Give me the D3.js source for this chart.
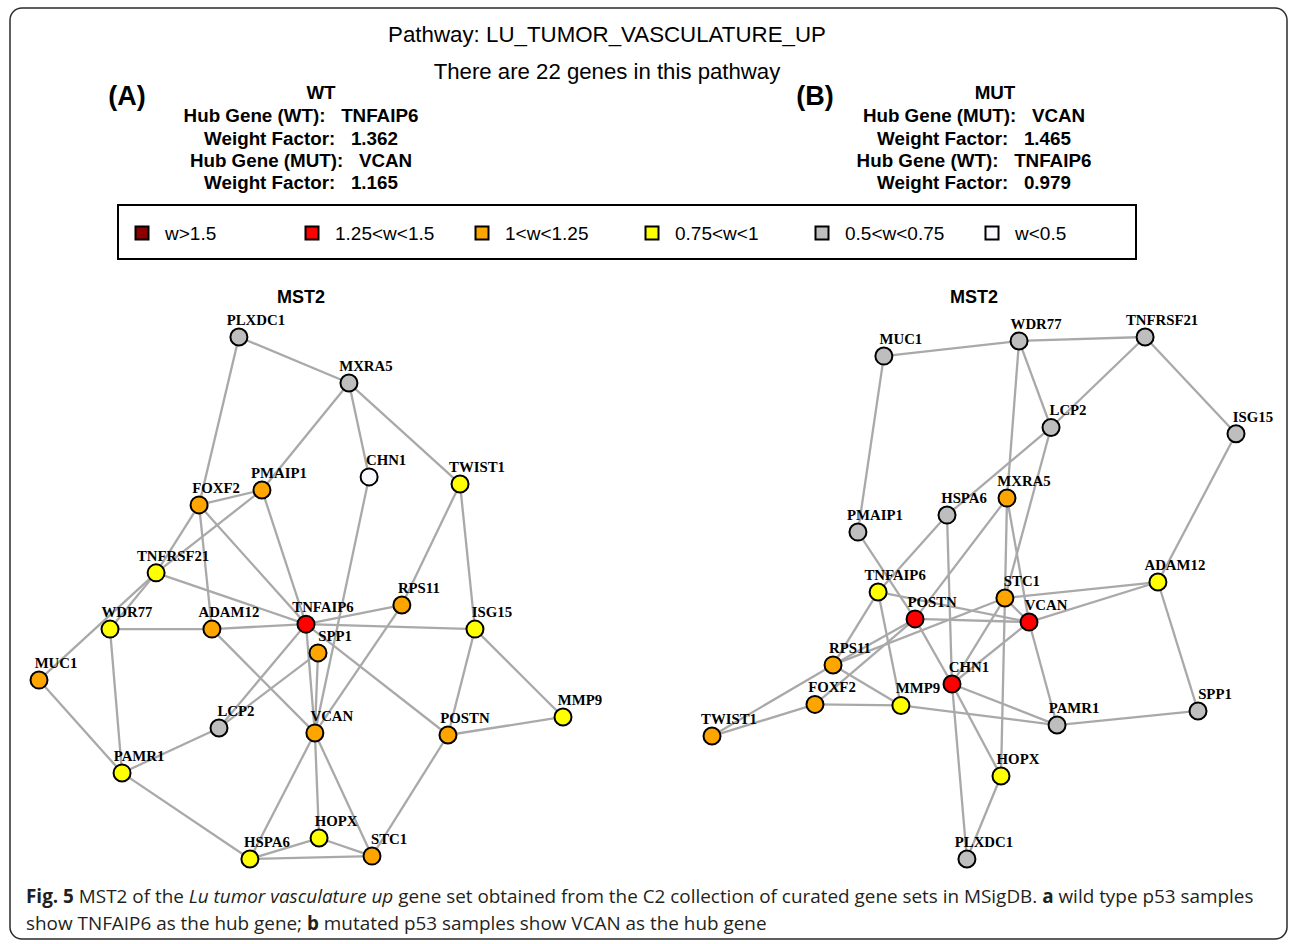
<!DOCTYPE html>
<html>
<head>
<meta charset="utf-8">
<script src="https://cdn.jsdelivr.net/npm/d3@7"></script>
<style>
  html, body { margin: 0; padding: 0; background: #fff; }
  svg { display: block; }
  .pre { white-space: pre; }
</style>
</head>
<body>
<div id="chart"></div>
<script>
// ---- data -------------------------------------------------------------
const genes = ["PLXDC1","MXRA5","CHN1","TWIST1","FOXF2","PMAIP1","TNFRSF21","WDR77",
  "ADAM12","TNFAIP6","RPS11","ISG15","SPP1","MUC1","LCP2","VCAN","POSTN","MMP9",
  "PAMR1","HOPX","HSPA6","STC1"];

// layout coordinates (normalised to [-1, 1]) for the wild-type network
const wtLayoutX = [-0.237, 0.183, 0.260, 0.607, -0.389, -0.149, -0.553, -0.729,
  -0.340, 0.019, 0.385, 0.664, 0.065, -1.0, -0.313, 0.053, 0.561, 1.0,
  -0.683, 0.069, -0.195, 0.271];
const wtLayoutY = [1.0, 0.824, 0.465, 0.438, 0.358, 0.415, 0.098, -0.117,
  -0.117, -0.098, -0.025, -0.117, -0.208, -0.312, -0.495, -0.514, -0.522, -0.453,
  -0.667, -0.916, -0.996, -0.985];
// node weight factors, wild type
const wtWeight = [0.62, 0.71, 0.46, 0.86, 1.12, 1.08, 0.92, 0.88,
  1.10, 1.362, 1.04, 0.95, 1.15, 1.02, 0.66, 1.165, 1.13, 0.78,
  0.84, 0.90, 0.82, 1.06];

// layout coordinates for the mutated network
const mutLayoutX = [-0.027, 0.126, -0.084, -1.0, -0.607, -0.443, 0.653, 0.172,
  0.702, -0.366, -0.538, 1.0, 0.855, -0.344, 0.294, 0.210, -0.225, -0.279,
  0.317, 0.103, -0.103, 0.118];
const mutLayoutY = [-0.996, 0.384, -0.327, -0.526, -0.405, 0.254, 1.0, 0.985,
  0.063, 0.025, -0.254, 0.630, -0.430, 0.927, 0.654, -0.090, -0.078, -0.409,
  -0.484, -0.679, 0.319, 0.002];
// node weight factors, mutated
const mutWeight = [0.60, 1.12, 1.28, 1.01, 1.03, 0.61, 0.55, 0.69,
  0.93, 0.979, 1.05, 0.52, 0.56, 0.58, 0.64, 1.465, 1.31, 0.81,
  0.67, 0.87, 0.73, 1.18];

// MST2 edges
const wtEdges = [
  ["PLXDC1","MXRA5"],["PLXDC1","FOXF2"],["MXRA5","PMAIP1"],["MXRA5","CHN1"],
  ["MXRA5","TWIST1"],["FOXF2","PMAIP1"],["FOXF2","TNFRSF21"],["FOXF2","ADAM12"],
  ["FOXF2","TNFAIP6"],["PMAIP1","TNFRSF21"],["PMAIP1","TNFAIP6"],["TNFRSF21","TNFAIP6"],
  ["TNFRSF21","WDR77"],["TNFRSF21","MUC1"],["WDR77","ADAM12"],["ADAM12","TNFAIP6"],
  ["WDR77","PAMR1"],["MUC1","PAMR1"],["PAMR1","LCP2"],["PAMR1","HSPA6"],
  ["ADAM12","VCAN"],["LCP2","TNFAIP6"],["LCP2","SPP1"],["TNFAIP6","VCAN"],
  ["SPP1","VCAN"],["CHN1","VCAN"],["TNFAIP6","RPS11"],["TNFAIP6","ISG15"],
  ["TNFAIP6","POSTN"],["RPS11","TWIST1"],["RPS11","VCAN"],["TWIST1","ISG15"],
  ["ISG15","POSTN"],["ISG15","MMP9"],["POSTN","MMP9"],["POSTN","STC1"],
  ["VCAN","HSPA6"],["VCAN","HOPX"],["VCAN","STC1"],["HOPX","HSPA6"],
  ["HOPX","STC1"],["HSPA6","STC1"]
];
const mutEdges = [
  ["MUC1","WDR77"],["MUC1","PMAIP1"],["WDR77","TNFRSF21"],["WDR77","LCP2"],
  ["WDR77","MXRA5"],["TNFRSF21","LCP2"],["TNFRSF21","ISG15"],["ISG15","ADAM12"],
  ["LCP2","HSPA6"],["LCP2","STC1"],["MXRA5","STC1"],["MXRA5","VCAN"],
  ["MXRA5","POSTN"],["HSPA6","CHN1"],["TNFAIP6","HSPA6"],["TNFAIP6","RPS11"],
  ["TNFAIP6","MMP9"],["TNFAIP6","VCAN"],["PMAIP1","POSTN"],["POSTN","VCAN"],
  ["POSTN","CHN1"],["POSTN","RPS11"],["POSTN","FOXF2"],["RPS11","STC1"],
  ["RPS11","TWIST1"],["RPS11","MMP9"],["FOXF2","TWIST1"],["FOXF2","MMP9"],
  ["MMP9","PAMR1"],["CHN1","PAMR1"],["CHN1","VCAN"],["CHN1","STC1"],
  ["CHN1","HOPX"],["CHN1","PLXDC1"],["HOPX","PLXDC1"],["STC1","HOPX"],
  ["STC1","VCAN"],["STC1","ADAM12"],["VCAN","ADAM12"],["VCAN","PAMR1"],
  ["PAMR1","SPP1"],["ADAM12","SPP1"]
];

// weight classes for the legend
const weightBreaks = [0.5, 0.75, 1, 1.25, 1.5];
const weightColors = ["#F8F8FF", "#BEBEBE", "#FFFF00", "#FFA500", "#FF0000", "#8B0000"];
const legendLabels = ["w>1.5", "1.25<w<1.5", "1<w<1.25", "0.75<w<1", "0.5<w<0.75", "w<0.5"];

const pathwayName = "LU_TUMOR_VASCULATURE_UP";
const geneCount = 22;
const wtInfo = ["WT", "Hub Gene (WT):   TNFAIP6", "Weight Factor:   1.362",
  "Hub Gene (MUT):   VCAN", "Weight Factor:   1.165"];
const mutInfo = ["MUT", "Hub Gene (MUT):   VCAN", "Weight Factor:   1.465",
  "Hub Gene (WT):   TNFAIP6", "Weight Factor:   0.979"];

// ---- drawing ----------------------------------------------------------
const W = 1296, H = 944;
const svg = d3.select("#chart").append("svg")
  .attr("width", W).attr("height", H)
  .attr("viewBox", [0, 0, W, H]);

svg.append("rect").attr("width", W).attr("height", H).attr("fill", "#fff");

// rounded frame around the figure
svg.append("rect")
  .attr("x", 10).attr("y", 8).attr("width", 1277).attr("height", 931)
  .attr("rx", 12).attr("ry", 12)
  .attr("fill", "none").attr("stroke", "#2b2b2b").attr("stroke-width", 1.5);

const sans = "'Liberation Sans', Arial, Helvetica, sans-serif";
const serif = "'Liberation Serif', 'Times New Roman', serif";

svg.append("text")
  .attr("x", 607).attr("y", 42)
  .attr("text-anchor", "middle")
  .attr("font-family", sans).attr("font-size", 22.3)
  .text("Pathway: " + pathwayName);

svg.append("text")
  .attr("x", 607).attr("y", 79)
  .attr("text-anchor", "middle")
  .attr("font-family", sans).attr("font-size", 22.2)
  .text(`There are ${geneCount} genes in this pathway`);

// panel tags
[["(A)", 127], ["(B)", 815]].forEach(([t, x]) => {
  svg.append("text")
    .attr("x", x).attr("y", 105)
    .attr("text-anchor", "middle")
    .attr("font-family", sans).attr("font-size", 27).attr("font-weight", "bold")
    .text(t);
});

// hub gene summary blocks
function infoBlock(lines, cx, titleCx) {
  const baselines = [99, 122, 145, 167, 189];
  lines.forEach((t, i) => {
    svg.append("text")
      .attr("class", "pre")
      .attr("x", i === 0 ? titleCx : cx).attr("y", baselines[i])
      .attr("text-anchor", "middle")
      .attr("font-family", sans).attr("font-size", 18.8).attr("font-weight", "bold")
      .text(t);
  });
}
infoBlock(wtInfo, 301, 321);
infoBlock(mutInfo, 974, 995);

// weight colour scale
const weightColor = d3.scaleThreshold().domain(weightBreaks).range(weightColors);

// legend
svg.append("rect")
  .attr("x", 118).attr("y", 205).attr("width", 1018).attr("height", 54)
  .attr("fill", "none").attr("stroke", "#000").attr("stroke-width", 2);

const legendX = d3.scalePoint().domain(legendLabels).range([142, 992]);
const legendColor = weightColors.slice().reverse();
const lg = svg.append("g").selectAll("g").data(legendLabels).join("g")
  .attr("transform", d => `translate(${legendX(d)},233)`);
lg.append("rect")
  .attr("x", -6.5).attr("y", -6.5).attr("width", 13).attr("height", 13)
  .attr("fill", (d, i) => legendColor[i])
  .attr("stroke", "#000").attr("stroke-width", 2);
lg.append("text")
  .attr("x", 23).attr("y", 7)
  .attr("font-family", sans).attr("font-size", 19)
  .text(d => d);

// network panels
function drawNetwork(layoutX, layoutY, weights, edges, xRange, title) {
  const x = d3.scaleLinear().domain([-1, 1]).range(xRange);
  const y = d3.scaleLinear().domain([-1, 1]).range([860, 337]);
  const nodes = genes.map((g, i) => ({ id: g, lx: layoutX[i], ly: layoutY[i], w: weights[i] }));
  const byId = new Map(nodes.map(n => [n.id, n]));
  const g = svg.append("g");

  g.append("text")
    .attr("x", (xRange[0] + xRange[1]) / 2).attr("y", 303)
    .attr("text-anchor", "middle")
    .attr("font-family", sans).attr("font-size", 18).attr("font-weight", "bold")
    .text(title);

  g.append("g").selectAll("line").data(edges).join("line")
    .attr("x1", d => x(byId.get(d[0]).lx)).attr("y1", d => y(byId.get(d[0]).ly))
    .attr("x2", d => x(byId.get(d[1]).lx)).attr("y2", d => y(byId.get(d[1]).ly))
    .attr("stroke", "#a9a9a9").attr("stroke-width", 2.3);

  g.append("g").selectAll("circle").data(nodes).join("circle")
    .attr("cx", d => x(d.lx)).attr("cy", d => y(d.ly)).attr("r", 8.5)
    .attr("fill", d => weightColor(d.w))
    .attr("stroke", "#000").attr("stroke-width", 2);

  g.append("g").selectAll("text").data(nodes).join("text")
    .attr("x", d => x(d.lx) + 17).attr("y", d => y(d.ly) - 12)
    .attr("text-anchor", "middle")
    .attr("font-family", serif).attr("font-size", 14.8).attr("font-weight", "bold")
    .text(d => d.id);
}
drawNetwork(wtLayoutX, wtLayoutY, wtWeight, wtEdges, [39, 563], "MST2");
drawNetwork(mutLayoutX, mutLayoutY, mutWeight, mutEdges, [712, 1236], "MST2");

// caption
const cap = "'Open Sans', 'Noto Sans', sans-serif";
const c1 = svg.append("text").attr("x", 26).attr("y", 903)
  .attr("font-family", cap).attr("font-size", 18.9).attr("fill", "#231f20");
c1.append("tspan").attr("font-weight", "bold").text("Fig. 5");
c1.append("tspan").text(" MST2 of the ");
c1.append("tspan").attr("font-style", "italic").text("Lu tumor vasculature up");
c1.append("tspan").text(" gene set obtained from the C2 collection of curated gene sets in MSigDB. ");
c1.append("tspan").attr("font-weight", "bold").text("a");
c1.append("tspan").text(" wild type p53 samples");

const c2 = svg.append("text").attr("x", 26).attr("y", 930)
  .attr("font-family", cap).attr("font-size", 18.9).attr("fill", "#231f20");
c2.append("tspan").text("show TNFAIP6 as the hub gene; ");
c2.append("tspan").attr("font-weight", "bold").text("b");
c2.append("tspan").text(" mutated p53 samples show VCAN as the hub gene");
</script>
</body>
</html>
